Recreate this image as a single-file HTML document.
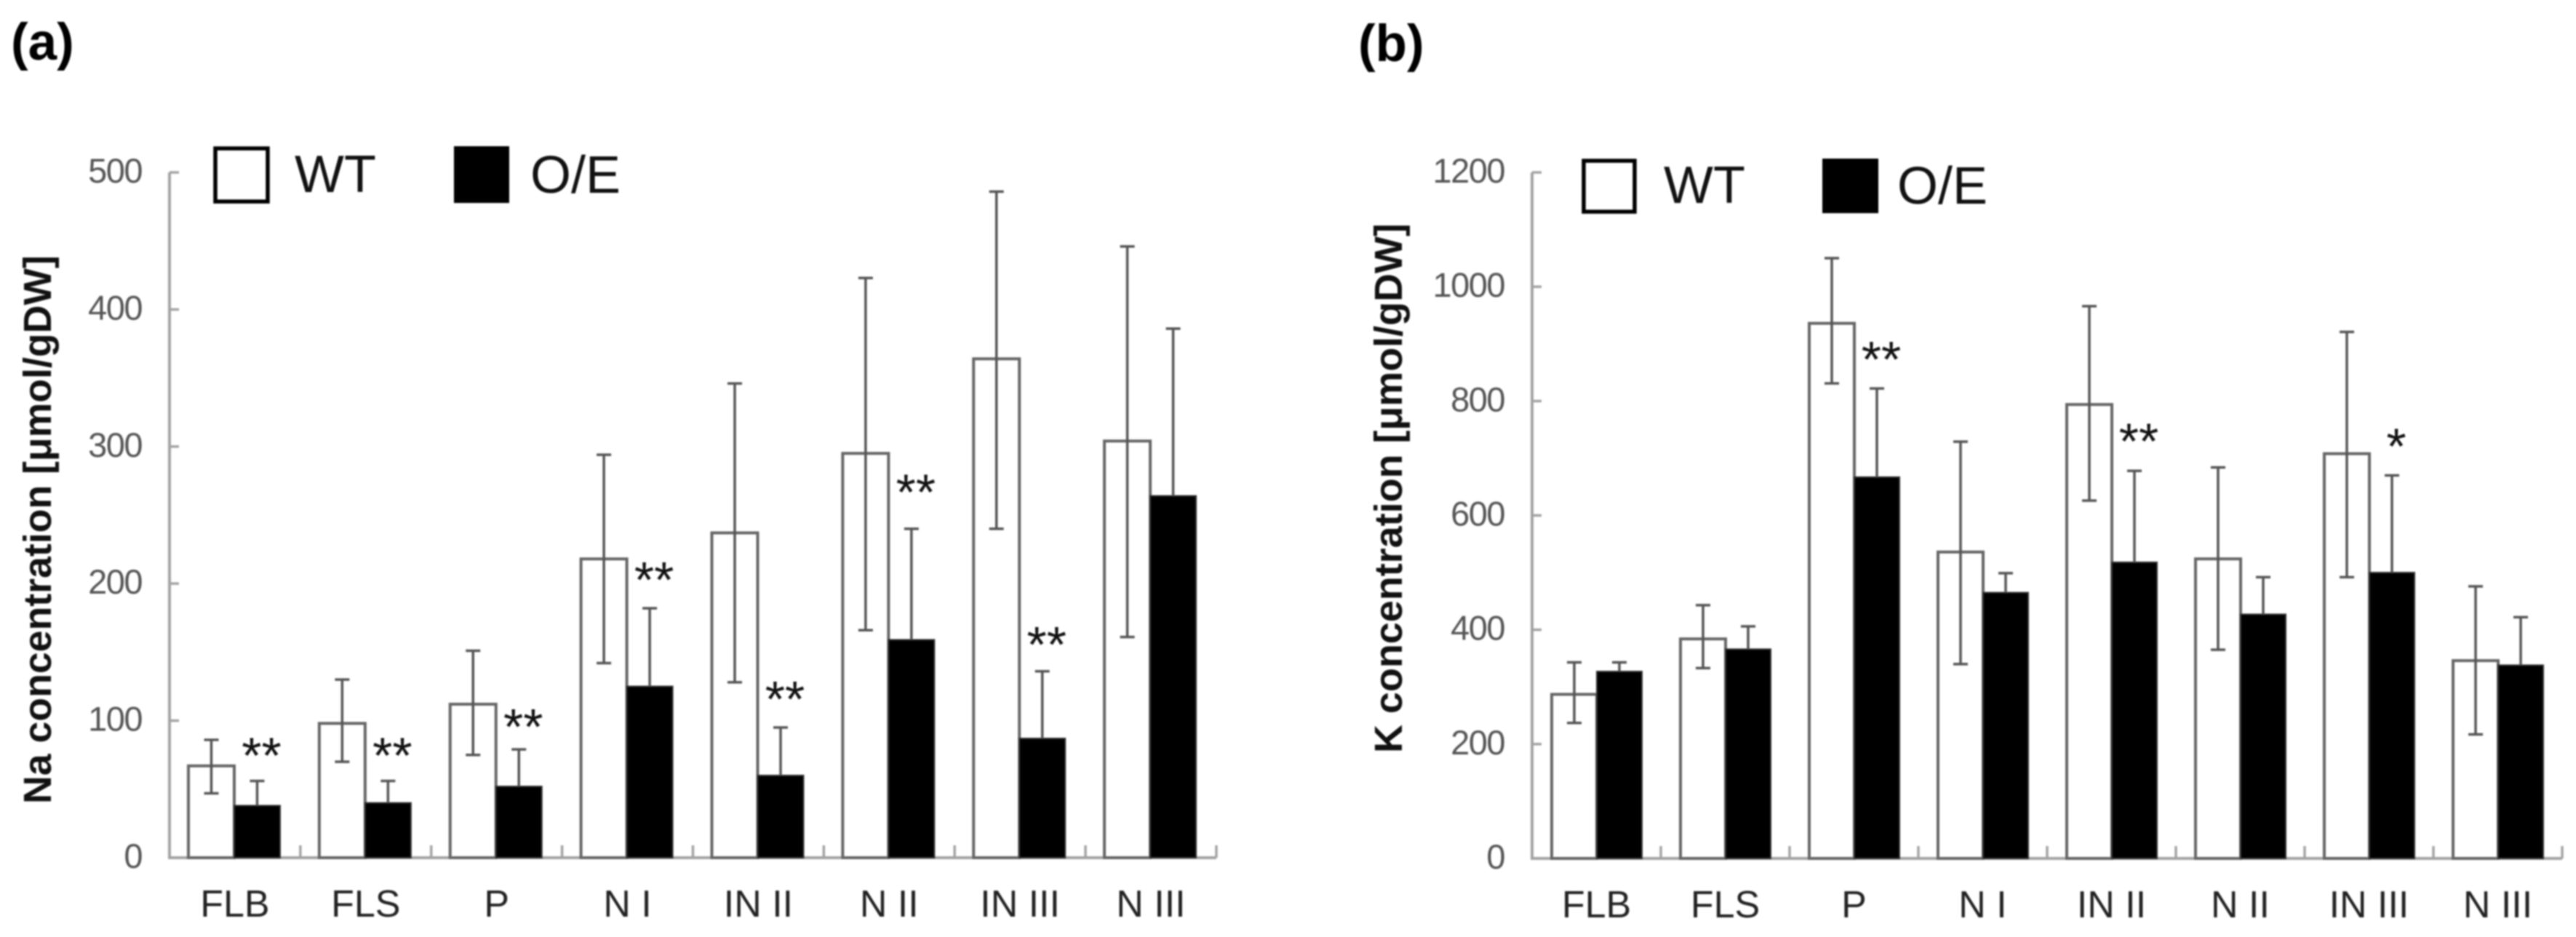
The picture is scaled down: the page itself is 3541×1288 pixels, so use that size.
<!DOCTYPE html>
<html lang="en">
<head>
<meta charset="utf-8">
<title>Na and K concentration charts</title>
<style>
html,body{margin:0;padding:0;background:#fff;width:3541px;height:1288px;overflow:hidden}
svg{display:block;filter:blur(1.1px)}
text{font-family:"Liberation Sans",sans-serif}
.panel{font-weight:bold;font-size:71px;fill:#000}
.ytitle{font-weight:bold;font-size:54px;fill:#111}
.legend{font-size:72px;fill:#111}
.ytick{font-size:47px;fill:#555;text-anchor:end;letter-spacing:-1.5px}
.xtick{font-size:52px;fill:#222;text-anchor:middle}
.star{font-size:70px;fill:#111;text-anchor:middle}
</style>
</head>
<body>
<svg id="figure" xmlns="http://www.w3.org/2000/svg" width="3541" height="1288" viewBox="0 0 3541 1288">
  <rect width="3541" height="1288" fill="#fff"/>

  <text class="panel" x="15" y="82">(a)</text>
  <text class="panel" x="1867" y="84">(b)</text>

  <text class="ytitle" transform="translate(70,728) rotate(-90)" text-anchor="middle" textLength="754" lengthAdjust="spacingAndGlyphs">Na concentration [μmol/gDW]</text>
  <text class="ytitle" transform="translate(1927,671) rotate(-90)" text-anchor="middle" textLength="728" lengthAdjust="spacingAndGlyphs">K concentration [μmol/gDW]</text>

  <g>
    <rect x="296" y="204" width="72" height="73" fill="#fff" stroke="#000" stroke-width="5.5"/>
    <text class="legend" x="405" y="264">WT</text>
    <rect x="624" y="201" width="76" height="78" fill="#000"/>
    <text class="legend" x="729" y="265">O/E</text>
  </g>
  <g>
    <rect x="2177" y="221" width="70" height="70" fill="#fff" stroke="#000" stroke-width="5.5"/>
    <text class="legend" x="2287" y="279">WT</text>
    <rect x="2505" y="218" width="77" height="75" fill="#000"/>
    <text class="legend" x="2608" y="280">O/E</text>
  </g>

  <g id="na-chart"></g>
  <g id="k-chart"></g>
</svg>

<script>
const categories = ['FLB', 'FLS', 'P', 'N I', 'IN II', 'N II', 'IN III', 'N III'];

const naTicks = [0, 100, 200, 300, 400, 500];
const naWt = [67, 98, 112, 218, 237, 295, 364, 304];
const naWtErrTop = [86, 130, 151, 294, 346, 423, 486, 446];
const naWtErrBottom = [47, 70, 75, 142, 128, 166, 240, 161];
const naOe = [38, 40, 52, 125, 60, 159, 87, 264];
const naOeErrTop = [56, 56, 79, 182, 95, 240, 136, 386];
const naStars = ['**', '**', '**', '**', '**', '**', '**', ''];
const naStarLevels = [81, 81, 102, 209, 122, 273, 162, 0];

const kTicks = [0, 200, 400, 600, 800, 1000, 1200];
const kWt = [287, 384, 936, 536, 794, 524, 708, 346];
const kWtErrTop = [343, 443, 1050, 729, 966, 684, 921, 476];
const kWtErrBottom = [237, 333, 831, 340, 626, 365, 492, 217];
const kOe = [327, 366, 667, 465, 518, 427, 500, 338];
const kOeErrTop = [343, 406, 822, 499, 678, 492, 670, 422];
const kStars = ['', '', '**', '', '**', '', '*', ''];
const kStarLevels = [0, 0, 888, 0, 745, 0, 736, 0];

const SVG_NS = 'http://www.w3.org/2000/svg';

function make(parent, tag, attrs) {
  const node = document.createElementNS(SVG_NS, tag);
  for (const key in attrs) node.setAttribute(key, attrs[key]);
  parent.appendChild(node);
  return node;
}

function drawChart(root, frame, ticks, wt, wtTop, wtBottom, oe, oeTop, stars, starLevels) {
  const maxTick = ticks[ticks.length - 1];
  const y = v => frame.baseY - (v / maxTick) * (frame.baseY - frame.topY);
  const step = (frame.endX - frame.axisX) / categories.length;
  const groupX = i => frame.axisX + step * i + frame.offset;
  const axisColor = '#a3a3a3';
  const barStroke = '#666';
  const errColor = '#555';

  const yAxis = make(root, 'line', {x1: frame.axisX, x2: frame.axisX, y1: y(maxTick), y2: frame.baseY, stroke: axisColor, 'stroke-width': 4});
  
  
  const xAxis = make(root, 'line', {x1: frame.axisX - 2, x2: frame.endX, y1: frame.baseY, y2: frame.baseY, stroke: axisColor, 'stroke-width': 4});
  
  

  ticks.forEach(t => {
    if (t > 0) {
      const mark = make(root, 'line', {x1: frame.axisX, x2: frame.axisX + 13, y1: y(t), y2: y(t), stroke: axisColor, 'stroke-width': 3.5});
      
      
    }
    const label = make(root, 'text', {class: 'ytick', x: frame.axisX - 38, y: y(t) + 14});
    
    
    label.textContent = t;
  });

  categories.forEach((name, i) => {
    const tickX = frame.axisX + step * (i + 1);
    const mark = make(root, 'line', {x1: tickX, x2: tickX, y1: frame.baseY, y2: frame.baseY - 17, stroke: axisColor, 'stroke-width': 3.5});
    
    

    const label = make(root, 'text', {class: 'xtick', x: frame.axisX + step * (i + 0.5), y: frame.baseY + 81});
    
    
    label.textContent = name;

    const x0 = groupX(i);
    const wtBar = make(root, 'rect', {x: x0, y: y(wt[i]), width: frame.bar, height: frame.baseY - y(wt[i]), fill: '#fff', stroke: barStroke, 'stroke-width': 4});
    
    

    const oeBar = make(root, 'rect', {x: x0 + frame.bar, y: y(oe[i]), width: frame.bar, height: frame.baseY - y(oe[i]), fill: '#000', stroke: '#333', 'stroke-width': 2});
    
    

    const wtCx = x0 + frame.bar / 2;
    const wtStem = make(root, 'line', {x1: wtCx, x2: wtCx, y1: y(wtTop[i]), y2: y(wtBottom[i]), stroke: errColor, 'stroke-width': 3.5});
    
    
    const wtCapTop = make(root, 'line', {x1: wtCx - 10, x2: wtCx + 10, y1: y(wtTop[i]), y2: y(wtTop[i]), stroke: errColor, 'stroke-width': 3.5});
    
    
    const wtCapBottom = make(root, 'line', {x1: wtCx - 10, x2: wtCx + 10, y1: y(wtBottom[i]), y2: y(wtBottom[i]), stroke: errColor, 'stroke-width': 3.5});
    
    

    const oeCx = x0 + frame.bar * 1.5;
    const oeStem = make(root, 'line', {x1: oeCx, x2: oeCx, y1: y(oeTop[i]), y2: y(oe[i]), stroke: errColor, 'stroke-width': 3.5});
    
    
    const oeCap = make(root, 'line', {x1: oeCx - 10, x2: oeCx + 10, y1: y(oeTop[i]), y2: y(oeTop[i]), stroke: errColor, 'stroke-width': 3.5});
    
    

    if (stars[i]) {
      const star = make(root, 'text', {class: 'star', x: oeCx + 6, y: y(starLevels[i]) + 36});
      
      
      star.textContent = stars[i];
    }
  });
}

drawChart(document.getElementById('na-chart'),
  {axisX: 233, endX: 1672, topY: 237, baseY: 1179, offset: 26, bar: 63},
  naTicks, naWt, naWtErrTop, naWtErrBottom, naOe, naOeErrTop, naStars, naStarLevels);

drawChart(document.getElementById('k-chart'),
  {axisX: 2106, endX: 3522, topY: 237, baseY: 1180, offset: 27, bar: 62},
  kTicks, kWt, kWtErrTop, kWtErrBottom, kOe, kOeErrTop, kStars, kStarLevels);
</script>
</body>
</html>
